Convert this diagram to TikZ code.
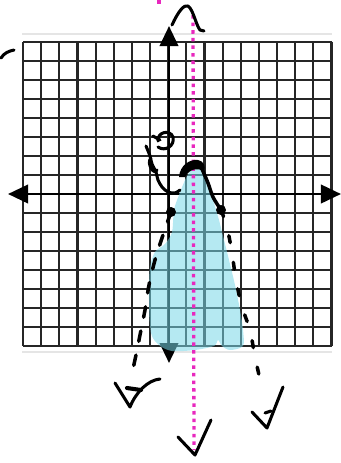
\documentclass[tikz,border=0pt]{standalone}
\usepackage{tikz}
\usepackage{xcolor}
\usetikzlibrary{arrows.meta,calc}
\definecolor{shadecolor}{RGB}{120,215,232}
\definecolor{symcolor}{RGB}{232,40,190}

\begin{document}
\begin{tikzpicture}[
    x=0.03cm, y=-0.03cm,
    gridline/.style={black!85, line width=1.8pt},
    axis/.style={black, line width=2.4pt, {Triangle[length=0.6cm,width=0.55cm]}-{Triangle[length=0.6cm,width=0.55cm]}},
    ink/.style={black, line width=2.6pt, line cap=round, line join=round},
    branch/.style={ink, line width=3pt, dash pattern=on 9pt off 12pt},
    symline/.style={symcolor, line width=2.8pt, dash pattern=on 3pt off 3.5pt},
    shade/.style={fill=shadecolor, fill opacity=0.55},
    point/.style={circle, fill=black, inner sep=0pt, minimum size=0.3cm}
]

\useasboundingbox (0,0) rectangle (341,463);

% Grid
\draw[black!10, line width=1pt] (22,34) -- (332,34);
\draw[black!10, line width=1pt] (22,352) -- (332,352);
\foreach \i in {0,...,17}
    \draw[gridline] ({23+18.15*\i},41.7) -- ({23+18.15*\i},345.7);
\foreach \j in {0,...,16}
    \draw[gridline] (23,{41.7+19*\j}) -- (331.6,{41.7+19*\j});

% Axes
\coordinate (xleft) at (8,194);
\coordinate (xright) at (341,194);
\coordinate (ytop) at (169,26);
\coordinate (ybottom) at (169,363);
\draw[axis] (xleft) -- (xright);
\draw[axis] (ybottom) -- (ytop);

% Shaded region
\fill[shade] plot[smooth cycle] coordinates {(192,170) (202,169) (206,180) (213,200) (219,220) (224,240) (229,260) (235,285) (240,310) (243,330) (243,346) (230,350) (222,346) (218,340) (214,346) (195,350) (172,351) (159,345) (151,333) (149,300) (150,268) (155,252) (165,244) (172,232) (174,210) (179,195) (186,178)};

% Axis of symmetry
\coordinate (symtop) at (193,15);
\coordinate (symbottom) at (194,450);
\draw[symline] (symtop) -- (symbottom);
\draw[symline] (159,0) -- (159,7);

% Vertex and points
\fill (179,177) .. controls (180,165) and (190,159) .. (198,160) .. controls (204,161) and (206,167) .. (204,171) .. controls (198,168) and (190,168) .. (185,177) -- cycle;
\node[point] (lpoint) at (171,212) {};
\node[point] (rpoint) at (221,210) {};

% Branches
\draw[ink, line width=3pt] plot[smooth] coordinates {(202,169) (208,183) (213,197) (rpoint)};
\draw[branch] plot[smooth] coordinates {(lpoint) (163,235) (155,260) (149,285) (145,310) (140,335) (136,355) (131,378)};
\draw[branch, dash pattern=on 6pt off 17pt] plot[smooth] coordinates {(rpoint) (227,227) (232,253) (236,280) (242,307) (250,330) (255,357) (262,388)};

% Scribbles on the left
\draw[ink] (158,141) .. controls (157,132) and (170,129) .. (173,137) .. controls (175,146) and (165,152) .. (158,147);
\draw[ink] (153,136) -- (160,140);
\draw[ink] plot[smooth] coordinates {(146,146) (150,156) (152,164) (156,172) (158,180) (162,187) (168,192) (175,193) (180,190)};
\draw[ink] (151,158) .. controls (146,163) and (154,176) .. (157,170);
\draw[ink] (1,58) .. controls (4,53) and (9,51) .. (14,50);

% Top cap
\draw[ink] (172,25) .. controls (178,12) and (184,4) .. (188,6) .. controls (193,9) and (196,25) .. (200,30) -- (204,31);

% End marks
\draw[ink] (115,383) -- (130,407) .. controls (136,392) and (148,380) .. (160,379);
\draw[ink, line width=3.5pt] (127,388) -- (141,390);
\draw[ink] (178,437) -- (195,455) -- (211,420);
\draw[ink] (252,412) -- (267,428) -- (283,387);
\draw[ink] (265,413) -- (271,411);

\end{tikzpicture}
\end{document}
